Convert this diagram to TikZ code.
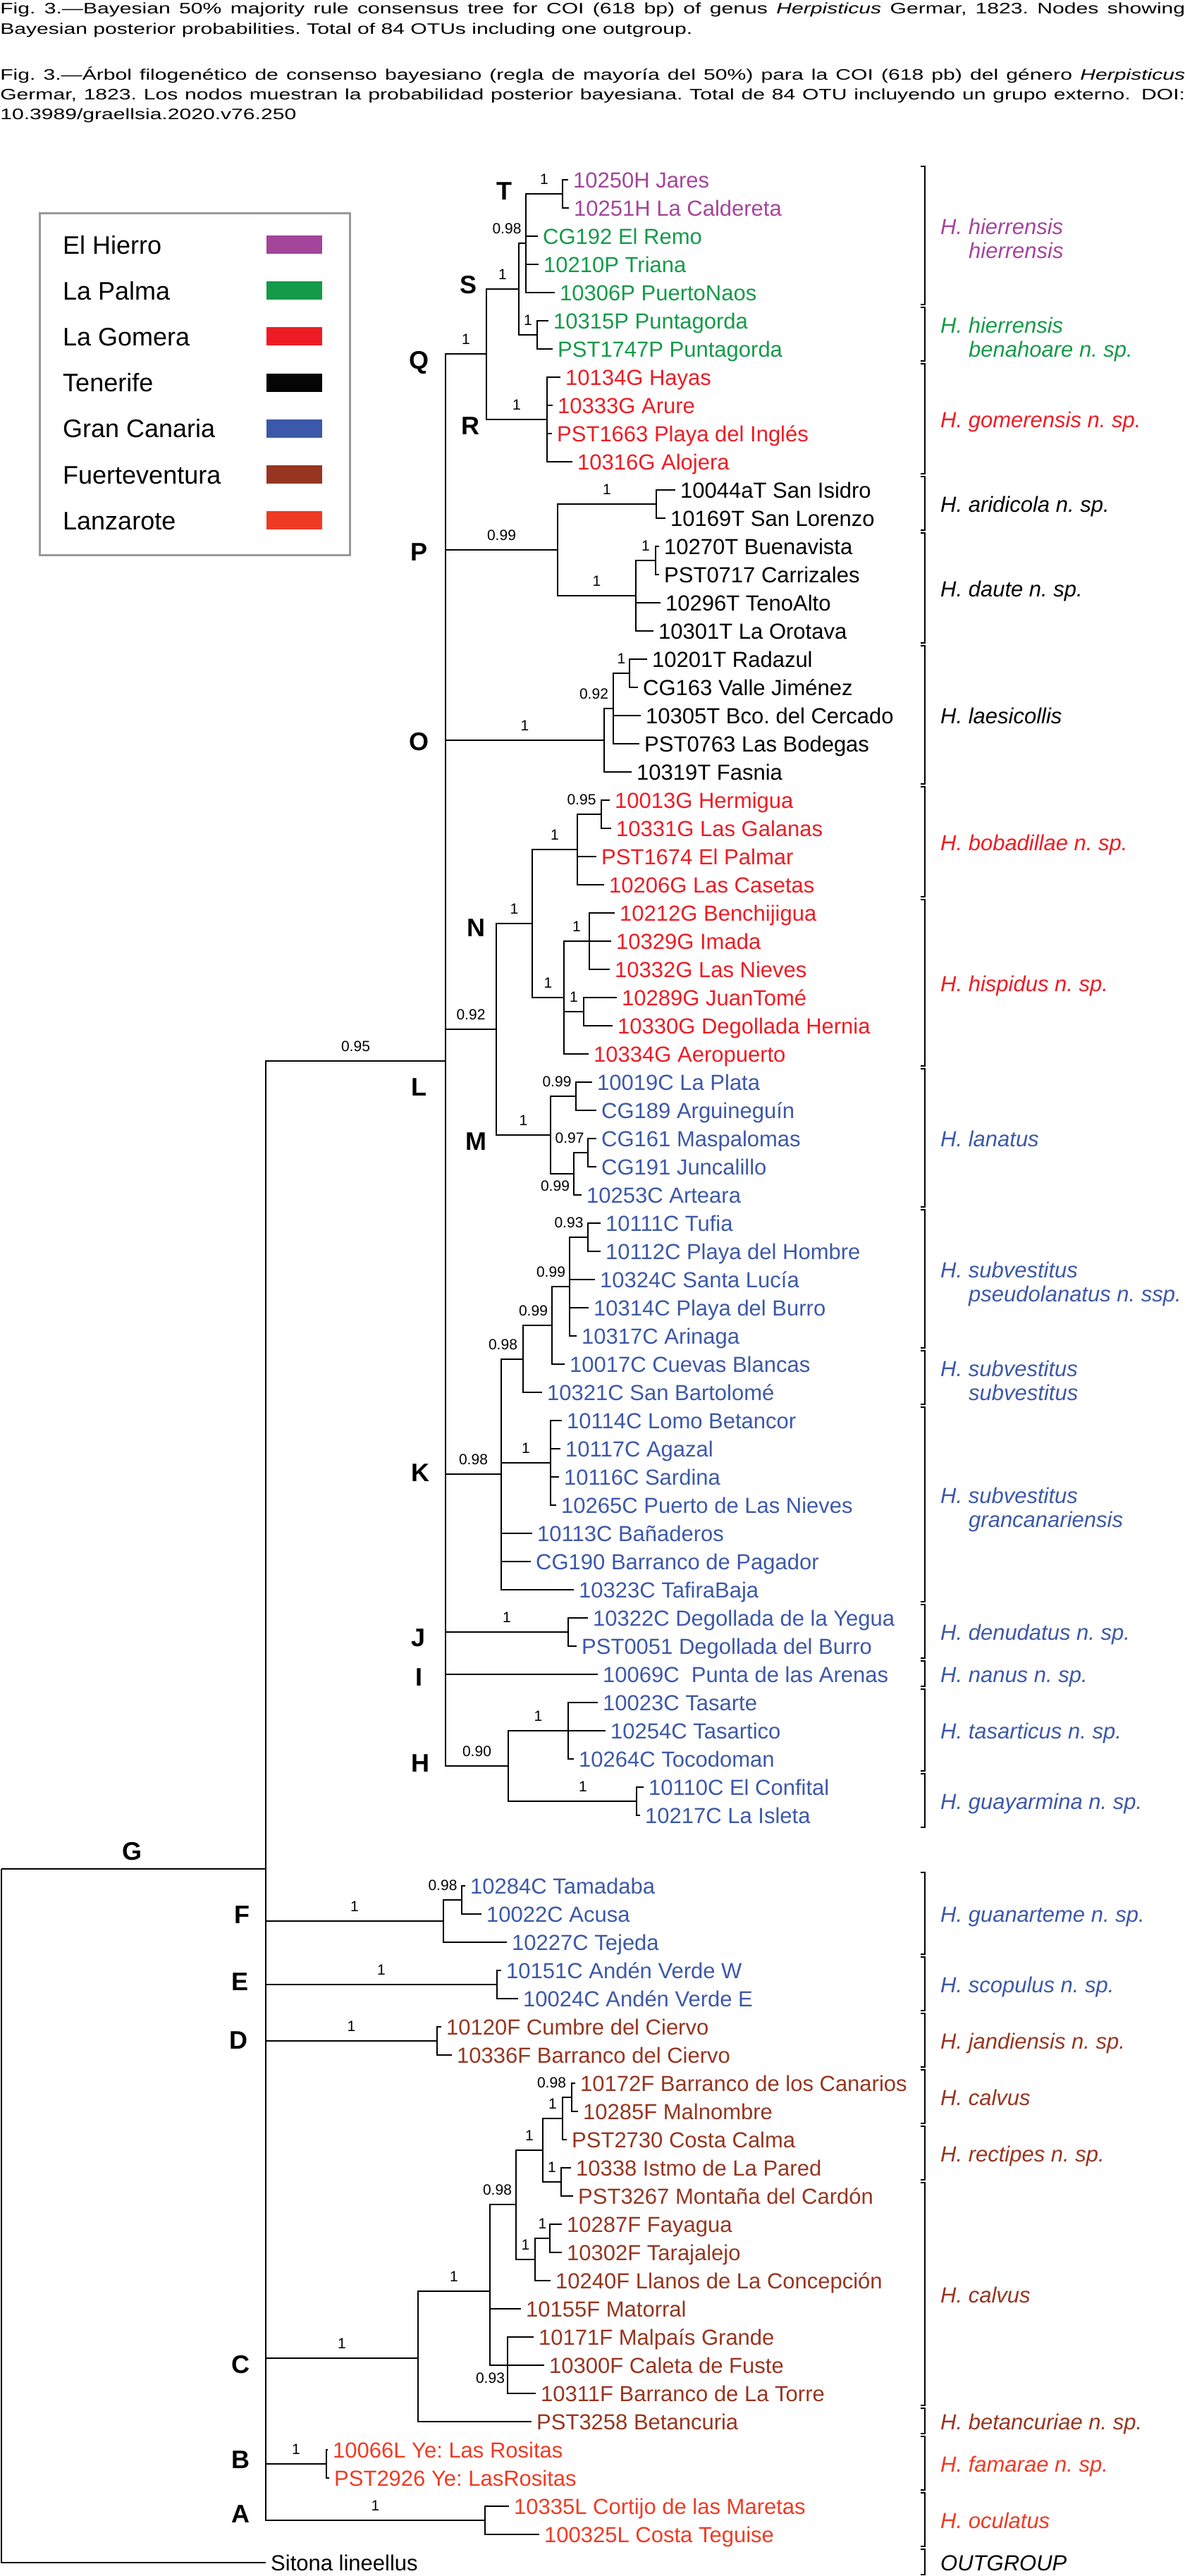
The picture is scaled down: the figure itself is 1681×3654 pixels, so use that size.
\documentclass[tikz,border=0pt]{standalone}
\usepackage{fontspec}
\setmainfont{Liberation Sans}
\usetikzlibrary{positioning}
\definecolor{hierro}{HTML}{A4449A}
\definecolor{palma}{HTML}{149A48}
\definecolor{gomera}{HTML}{ED1C24}
\definecolor{tenerife}{HTML}{050505}
\definecolor{canaria}{HTML}{3C58A8}
\definecolor{fuerte}{HTML}{963520}
\definecolor{lanza}{HTML}{EE3B24}
\hyphenpenalty=10000
\frenchspacing
\tikzset{
  branch/.style = {line width=2.2pt},
  leaf/.style = {anchor=west, inner xsep=7pt, inner ysep=0pt,
                 font=\fontsize{31}{36}\selectfont, text height=22pt, text depth=0pt},
  support/.style = {inner sep=0pt, font=\fontsize{21}{21}\selectfont,
                    text height=15pt, text depth=0pt},
  cladename/.style = {inner sep=0pt, font=\fontsize{36}{36}\selectfont\bfseries,
                      text height=26pt, text depth=0pt},
  species/.style = {anchor=west, inner sep=0pt, font=\fontsize{31}{36}\selectfont\itshape,
                    text height=22pt, text depth=0pt},
  bracket/.style = {line width=2.4pt},
  legend box/.style = {draw=black!40, line width=3pt},
  legend text/.style = {anchor=west, inner sep=0pt, font=\fontsize{36}{40}\selectfont,
                        text height=26pt, text depth=0pt},
  caption/.style = {anchor=north west, inner sep=0pt, xscale=1.4,
                    text width=1200.7pt, align=justify,
                    font=\fontsize{21.5}{28.3}\selectfont},
}
%% a terminal taxon: [colour]{name}{parent}{tip x}{row y}{label}
\newcommand{\otu}[6][black]{%
  \node [leaf, text=#1] (#2) at (#4,#5) {#6};
  \draw [branch] (#3) |- (#2.west);
}
%% an inner branch with its posterior probability
\newcommand{\clade}[4][above=12pt]{%
  \draw [branch] (#2) |- (#3) node [support, pos=0.75, #1] (pp#3) {#4};
}
%% species bracket and name: [colour]{name}{first row}{last row}{text}
\newcommand{\species}[5][black]{%
  \draw [bracket] (1306,{#3-19}) -- (1312,{#3-19}) -- (1312,{#4+17}) -- (1306,{#4+17});
  \node [species, text=#1] (#2) at (1334,{(#3+#4)/2}) {#5};
}
\newcommand{\speciestwo}[6][black]{%
  \draw [bracket] (1306,{#3-19}) -- (1312,{#3-19}) -- (1312,{#4+17}) -- (1306,{#4+17});
  \node [species, text=#1] (#2) at (1334,{(#3+#4)/2-14}) {#5};
  \node [species, text=#1] (#2b) at (1374,{(#3+#4)/2+20}) {#6};
}

\begin{document}
\begin{tikzpicture}[x=1pt, y=-1pt]
  \useasboundingbox (0,0) rectangle (1681,3654);

  %% Caption
  \node [caption] (cap) at (0,4) {Fig. 3.—Bayesian 50\% majority rule consensus tree for COI (618 bp) of genus \textit{Herpisticus} Germar, 1823. Nodes showing\linebreak Bayesian posterior probabilities. Total of 84 OTUs including one outgroup.\par\vspace{36.7pt}Fig. 3.—Árbol filogenético de consenso bayesiano (regla de mayoría del 50\%) para la COI (618 pb) del género \textit{Herpisticus}\linebreak Germar, 1823. Los nodos muestran la probabilidad posterior bayesiana. Total de 84 OTU incluyendo un grupo externo.\hspace{4pt} DOI:\linebreak 10.3989/graellsia.2020.v76.250};

  %% Legend of the islands
  \draw [legend box] (56,302) rectangle (496,787);
  \foreach \isle/\col [count=\k from 0] in {El Hierro/hierro, La Palma/palma,
      La Gomera/gomera, Tenerife/tenerife, Gran Canaria/canaria,
      Fuerteventura/fuerte, Lanzarote/lanza}{%
    \node [legend text] (leg\k) at (89,{347+65.2*\k}) {\isle};
    \fill [\col] (378,{334+65.2*\k}) rectangle ++(79,26);
  }

  %% Inner nodes (x of the split, y of the stem)
  \coordinate (nRoot) at (2,2651);
  \coordinate (nG) at (377,2651);
  \coordinate (nL) at (632,1505);
  \coordinate (nQ) at (690,502);
  \coordinate (nS) at (736,410);
  \coordinate (nX1) at (746,345);
  \coordinate (nT) at (798,275);
  \coordinate (nPG) at (762,475);
  \coordinate (nR) at (776,595);
  \coordinate (nP) at (791,780);
  \coordinate (nAri) at (931,715);
  \coordinate (nDau) at (902,845);
  \coordinate (nBC) at (930,795);
  \coordinate (nO) at (857,1050);
  \coordinate (nO2) at (870,1005);
  \coordinate (nRV) at (893,955);
  \coordinate (nNM) at (704,1460);
  \coordinate (nN) at (755,1310);
  \coordinate (nBob) at (819,1205);
  \coordinate (nHG) at (853,1155);
  \coordinate (nHis) at (800,1415);
  \coordinate (nBen) at (836,1335);
  \coordinate (nJT) at (828,1435);
  \coordinate (nM) at (781,1610);
  \coordinate (nLP) at (817,1555);
  \coordinate (nM2) at (814,1665);
  \coordinate (nMJ) at (834,1635);
  \coordinate (nK) at (711,2091);
  \coordinate (nK1) at (742,1928);
  \coordinate (nK3) at (783,1880);
  \coordinate (nK4) at (808,1825);
  \coordinate (nTU) at (834,1755);
  \coordinate (nK2) at (781,2075);
  \coordinate (nJ) at (806,2315);
  \coordinate (nH) at (721,2505);
  \coordinate (nTa) at (806,2455);
  \coordinate (nGu) at (903,2555);
  \coordinate (nF) at (629,2725);
  \coordinate (nTA) at (655,2695);
  \coordinate (nE) at (705,2815);
  \coordinate (nD) at (620,2895);
  \coordinate (nC) at (593,3345);
  \coordinate (nC1) at (695,3250);
  \coordinate (nC2) at (732,3127);
  \coordinate (nC4) at (770,3050);
  \coordinate (nC6) at (798,3005);
  \coordinate (nC8) at (811,2975);
  \coordinate (nC7) at (796,3095);
  \coordinate (nC5) at (759,3205);
  \coordinate (nC9) at (780,3175);
  \coordinate (nC3) at (720,3355);
  \coordinate (nB) at (463,3495);
  \coordinate (nA) at (688,3575);

  %% Inner branches
  \draw [branch] (nRoot) |- (nG);
  \clade{nG}{nL}{0.95}
  \clade{nL}{nQ}{1}
  \clade{nQ}{nS}{1}
  \clade[above=12pt, xshift=-22pt]{nS}{nX1}{0.98}
  \clade{nX1}{nT}{1}
  \clade{nS}{nPG}{1}
  \clade{nQ}{nR}{1}
  \clade{nL}{nP}{0.99}
  \clade{nP}{nAri}{1}
  \clade{nP}{nDau}{1}
  \clade{nDau}{nBC}{1}
  \clade{nL}{nO}{1}
  \clade[above=12pt, xshift=-21pt]{nO}{nO2}{0.92}
  \clade{nO2}{nRV}{1}
  \clade{nL}{nNM}{0.92}
  \clade{nNM}{nN}{1}
  \clade{nN}{nBob}{1}
  \clade[above=12pt, xshift=-11pt]{nBob}{nHG}{0.95}
  \clade{nN}{nHis}{1}
  \clade{nHis}{nBen}{1}
  \clade{nHis}{nJT}{1}
  \clade{nNM}{nM}{1}
  \clade[above=12pt, xshift=-9pt]{nM}{nLP}{0.99}
  \clade[below=8pt, xshift=-10pt]{nM}{nM2}{0.99}
  \clade[above=12pt, xshift=-16pt]{nM2}{nMJ}{0.97}
  \clade{nL}{nK}{0.98}
  \clade[above=12pt, xshift=-13pt]{nK}{nK1}{0.98}
  \clade[above=12pt, xshift=-6pt]{nK1}{nK3}{0.99}
  \clade[above=12pt, xshift=-14pt]{nK3}{nK4}{0.99}
  \clade[above=12pt, xshift=-14pt]{nK4}{nTU}{0.93}
  \clade{nK}{nK2}{1}
  \clade{nL}{nJ}{1}
  \clade{nL}{nH}{0.90}
  \clade{nH}{nTa}{1}
  \clade[above=12pt, xshift=15pt]{nH}{nGu}{1}
  \clade{nG}{nF}{1}
  \clade[above=12pt, xshift=-14pt]{nF}{nTA}{0.98}
  \clade{nG}{nE}{1}
  \clade{nG}{nD}{1}
  \clade{nG}{nC}{1}
  \clade{nC}{nC1}{1}
  \clade[above=12pt, xshift=-8pt]{nC1}{nC2}{0.98}
  \clade{nC2}{nC4}{1}
  \clade{nC4}{nC6}{1}
  \clade[above=12pt, xshift=-22pt]{nC6}{nC8}{0.98}
  \clade{nC4}{nC7}{1}
  \clade{nC2}{nC5}{1}
  \clade{nC5}{nC9}{1}
  \clade[below=9pt, xshift=-12pt]{nC1}{nC3}{0.93}
  \clade{nG}{nB}{1}
  \clade{nG}{nA}{1}

  %% Terminal taxa
  \otu[hierro]{jares}{nT}{806}{255}{10250H Jares}
  \otu[hierro]{caldereta}{nT}{807}{295}{10251H La Caldereta}
  \otu[palma]{remo}{nX1}{763}{335}{CG192 El Remo}
  \otu[palma]{triana}{nX1}{764}{375}{10210P Triana}
  \otu[palma]{puertonaos}{nX1}{787}{415}{10306P PuertoNaos}
  \otu[palma]{puntagorda}{nPG}{778}{455}{10315P Puntagorda}
  \otu[palma]{puntagordb}{nPG}{784}{495}{PST1747P Puntagorda}
  \otu[gomera]{hayas}{nR}{795}{535}{10134G Hayas}
  \otu[gomera]{arure}{nR}{784}{575}{10333G Arure}
  \otu[gomera]{ingles}{nR}{783}{615}{PST1663 Playa del Inglés}
  \otu[gomera]{alojera}{nR}{812}{655}{10316G Alojera}
  \otu{isidro}{nAri}{958}{695}{10044aT San Isidro}
  \otu{lorenzo}{nAri}{944}{735}{10169T San Lorenzo}
  \otu{buenavista}{nBC}{935}{775}{10270T Buenavista}
  \otu{carrizales}{nBC}{935}{815}{PST0717 Carrizales}
  \otu{tenoalto}{nDau}{937}{855}{10296T TenoAlto}
  \otu{orotava}{nDau}{927}{895}{10301T La Orotava}
  \otu{radazul}{nRV}{918}{935}{10201T Radazul}
  \otu{valle}{nRV}{905}{975}{CG163 Valle Jiménez}
  \otu{cercado}{nO2}{909}{1015}{10305T Bco. del Cercado}
  \otu{bodegas}{nO2}{907}{1055}{PST0763 Las Bodegas}
  \otu{fasnia}{nO}{896}{1095}{10319T Fasnia}
  \otu[gomera]{hermigua}{nHG}{865}{1135}{10013G Hermigua}
  \otu[gomera]{galanas}{nHG}{867}{1175}{10331G Las Galanas}
  \otu[gomera]{palmar}{nBob}{846}{1215}{PST1674 El Palmar}
  \otu[gomera]{casetas}{nBob}{857}{1255}{10206G Las Casetas}
  \otu[gomera]{benchijigua}{nBen}{872}{1295}{10212G Benchijigua}
  \otu[gomera]{imada}{nBen}{867}{1335}{10329G Imada}
  \otu[gomera]{nievesg}{nBen}{865}{1375}{10332G Las Nieves}
  \otu[gomera]{juantome}{nJT}{875}{1415}{10289G JuanTomé}
  \otu[gomera]{hernia}{nJT}{869}{1455}{10330G Degollada Hernia}
  \otu[gomera]{aeropuerto}{nHis}{835}{1495}{10334G Aeropuerto}
  \otu[canaria]{plata}{nLP}{840}{1535}{10019C La Plata}
  \otu[canaria]{arguineguin}{nLP}{846}{1575}{CG189 Arguineguín}
  \otu[canaria]{maspalomas}{nMJ}{846}{1615}{CG161 Maspalomas}
  \otu[canaria]{juncalillo}{nMJ}{846}{1655}{CG191 Juncalillo}
  \otu[canaria]{arteara}{nM2}{825}{1695}{10253C Arteara}
  \otu[canaria]{tufia}{nTU}{852}{1735}{10111C Tufia}
  \otu[canaria]{hombre}{nTU}{852}{1775}{10112C Playa del Hombre}
  \otu[canaria]{lucia}{nK4}{844}{1815}{10324C Santa Lucía}
  \otu[canaria]{burro}{nK4}{835}{1855}{10314C Playa del Burro}
  \otu[canaria]{arinaga}{nK4}{818}{1895}{10317C Arinaga}
  \otu[canaria]{cuevas}{nK3}{801}{1935}{10017C Cuevas Blancas}
  \otu[canaria]{bartolome}{nK1}{769}{1975}{10321C San Bartolomé}
  \otu[canaria]{lomo}{nK2}{797}{2015}{10114C Lomo Betancor}
  \otu[canaria]{agazal}{nK2}{795}{2055}{10117C Agazal}
  \otu[canaria]{sardina}{nK2}{793}{2095}{10116C Sardina}
  \otu[canaria]{nievesc}{nK2}{789}{2135}{10265C Puerto de Las Nieves}
  \otu[canaria]{banaderos}{nK}{755}{2175}{10113C Bañaderos}
  \otu[canaria]{pagador}{nK}{753}{2215}{CG190 Barranco de Pagador}
  \otu[canaria]{tafira}{nK}{814}{2255}{10323C TafiraBaja}
  \otu[canaria]{yegua}{nJ}{834}{2295}{10322C Degollada de la Yegua}
  \otu[canaria]{degburro}{nJ}{818}{2335}{PST0051 Degollada del Burro}
  \otu[canaria]{arenas}{nL}{848}{2375}{10069C\ \ Punta de las Arenas}
  \otu[canaria]{tasarte}{nTa}{848}{2415}{10023C Tasarte}
  \otu[canaria]{tasartico}{nTa}{859}{2455}{10254C Tasartico}
  \otu[canaria]{tocodoman}{nTa}{814}{2495}{10264C Tocodoman}
  \otu[canaria]{confital}{nGu}{913}{2535}{10110C El Confital}
  \otu[canaria]{isleta}{nGu}{908}{2575}{10217C La Isleta}
  \otu[canaria]{tamadaba}{nTA}{660}{2675}{10284C Tamadaba}
  \otu[canaria]{acusa}{nTA}{683}{2715}{10022C Acusa}
  \otu[canaria]{tejeda}{nF}{719}{2755}{10227C Tejeda}
  \otu[canaria]{andenw}{nE}{711}{2795}{10151C Andén Verde W}
  \otu[canaria]{andene}{nE}{735}{2835}{10024C Andén Verde E}
  \otu[fuerte]{cumbre}{nD}{626}{2875}{10120F Cumbre del Ciervo}
  \otu[fuerte]{ciervo}{nD}{641}{2915}{10336F Barranco del Ciervo}
  \otu[fuerte]{canarios}{nC8}{816}{2955}{10172F Barranco de los Canarios}
  \otu[fuerte]{malnombre}{nC8}{820}{2995}{10285F Malnombre}
  \otu[fuerte]{costacalma}{nC6}{804}{3035}{PST2730 Costa Calma}
  \otu[fuerte]{istmo}{nC7}{810}{3075}{10338 Istmo de La Pared}
  \otu[fuerte]{cardon}{nC7}{813}{3115}{PST3267 Montaña del Cardón}
  \otu[fuerte]{fayagua}{nC9}{797}{3155}{10287F Fayagua}
  \otu[fuerte]{tarajalejo}{nC9}{797}{3195}{10302F Tarajalejo}
  \otu[fuerte]{llanos}{nC5}{781}{3235}{10240F Llanos de La Concepción}
  \otu[fuerte]{matorral}{nC1}{739}{3275}{10155F Matorral}
  \otu[fuerte]{malpais}{nC3}{757}{3315}{10171F Malpaís Grande}
  \otu[fuerte]{caleta}{nC3}{772}{3355}{10300F Caleta de Fuste}
  \otu[fuerte]{torre}{nC3}{760}{3395}{10311F Barranco de La Torre}
  \otu[fuerte]{betancuria}{nC}{754}{3435}{PST3258 Betancuria}
  \otu[lanza]{rositas}{nB}{465}{3475}{10066L Ye: Las Rositas}
  \otu[lanza]{lasrositas}{nB}{467}{3515}{PST2926 Ye: LasRositas}
  \otu[lanza]{maretas}{nA}{722}{3555}{10335L Cortijo de las Maretas}
  \otu[lanza]{teguise}{nA}{765}{3595}{100325L Costa Teguise}
  \otu{sitona}{nRoot}{377}{3635}{Sitona lineellus}

  %% Clade letters
  \node [cladename] (lT) at (715,270) {T};
  \node [cladename] (lS) at (664,403) {S};
  \node [cladename] (lQ) at (594,510) {Q};
  \node [cladename] (lR) at (667,603) {R};
  \node [cladename] (lP) at (594,782) {P};
  \node [cladename] (lO) at (594,1051) {O};
  \node [cladename] (lN) at (675,1315) {N};
  \node [cladename] (lL) at (594,1541) {L};
  \node [cladename] (lM) at (675,1618) {M};
  \node [cladename] (lK) at (596,2088) {K};
  \node [cladename] (lJ) at (594,2322) {J};
  \node [cladename] (lI) at (594,2378) {I};
  \node [cladename] (lH) at (596,2500) {H};
  \node [cladename] (lG) at (187,2625) {G};
  \node [cladename] (lF) at (343,2715) {F};
  \node [cladename] (lE) at (341,2810) {E};
  \node [cladename] (lD) at (338,2893) {D};
  \node [cladename] (lC) at (341,3353) {C};
  \node [cladename] (lB) at (341,3488) {B};
  \node [cladename] (lA) at (341,3565) {A};

  %% Species brackets
  \speciestwo[hierro]{spHH}{255}{415}{H. hierrensis}{hierrensis}
  \speciestwo[palma]{spHB}{455}{495}{H. hierrensis}{benahoare n. sp.}
  \species[gomera]{spGo}{535}{655}{H. gomerensis n. sp.}
  \species{spAr}{695}{735}{H. aridicola n. sp.}
  \species{spDa}{775}{895}{H. daute n. sp.}
  \species{spLa}{935}{1095}{H. laesicollis}
  \species[gomera]{spBo}{1135}{1255}{H. bobadillae n. sp.}
  \species[gomera]{spHi}{1295}{1495}{H. hispidus n. sp.}
  \species[canaria]{spLn}{1535}{1695}{H. lanatus}
  \speciestwo[canaria]{spPs}{1735}{1895}{H. subvestitus}{pseudolanatus n. ssp.}
  \speciestwo[canaria]{spSu}{1935}{1975}{H. subvestitus}{subvestitus}
  \speciestwo[canaria]{spGc}{2015}{2255}{H. subvestitus}{grancanariensis}
  \species[canaria]{spDe}{2295}{2335}{H. denudatus n. sp.}
  \species[canaria]{spNa}{2375}{2375}{H. nanus n. sp.}
  \species[canaria]{spTa}{2415}{2495}{H. tasarticus n. sp.}
  \species[canaria]{spGy}{2535}{2575}{H. guayarmina n. sp.}
  \species[canaria]{spGu}{2675}{2755}{H. guanarteme n. sp.}
  \species[canaria]{spSc}{2795}{2835}{H. scopulus n. sp.}
  \species[fuerte]{spJa}{2875}{2915}{H. jandiensis n. sp.}
  \species[fuerte]{spCa}{2955}{2995}{H. calvus}
  \species[fuerte]{spRe}{3035}{3075}{H. rectipes n. sp.}
  \species[fuerte]{spCb}{3115}{3395}{H. calvus}
  \species[fuerte]{spBe}{3435}{3435}{H. betancuriae n. sp.}
  \species[lanza]{spFa}{3475}{3515}{H. famarae n. sp.}
  \species[lanza]{spOc}{3555}{3595}{H. oculatus}
  \species{spOut}{3635}{3635}{OUTGROUP}
\end{tikzpicture}
\end{document}
